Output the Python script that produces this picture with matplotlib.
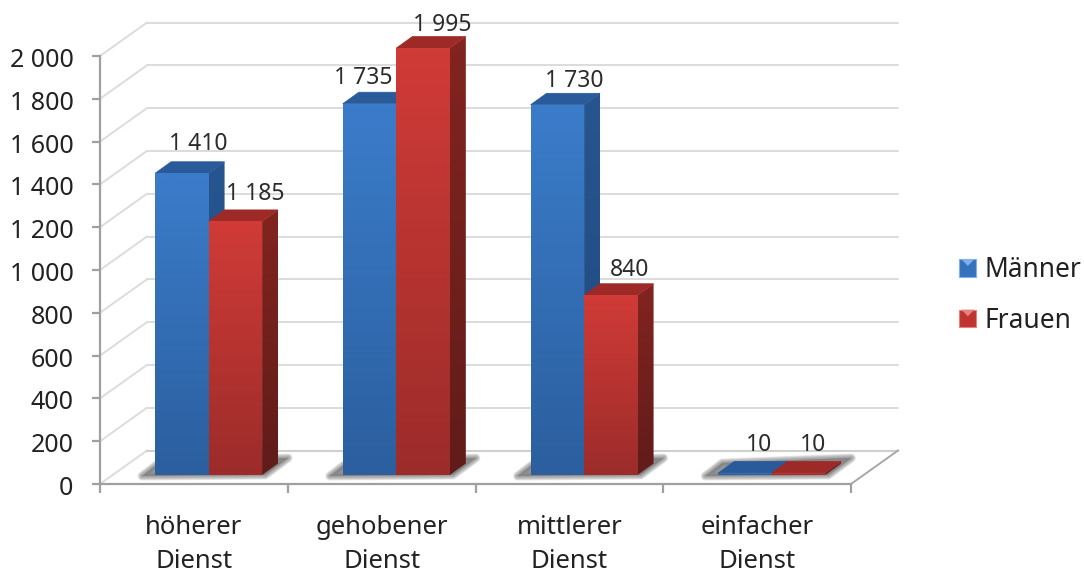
import matplotlib
matplotlib.use("Agg")
import matplotlib.pyplot as plt
import numpy as np
from matplotlib.colors import LinearSegmentedColormap
from matplotlib.legend_handler import HandlerBase
from matplotlib.patches import Patch, Polygon, Rectangle
from matplotlib.transforms import ScaledTranslation

categories = ["höherer\nDienst", "gehobener\nDienst", "mittlerer\nDienst", "einfacher\nDienst"]
men = [1410, 1735, 1730, 10]
women = [1185, 1995, 840, 10]
series_names = ["Männer", "Frauen"]
y_ticks = list(range(0, 2001, 200))

# Label displacement from the top centre of each bar, in pixels
men_label_shift = [(16, 29), (-6, 26), (17, 24), (14, 28)]
women_label_shift = [(20, 27), (19, 23), (19, 25), (14, 28)]

FONT = "Noto Sans"
W, H = 1084, 573
L, R, T, B = 100, 851, 56, 484

fig = plt.figure(figsize=(W / 100, H / 100), dpi=100)
ax = fig.add_axes([L / W, 1 - B / H, (R - L) / W, (B - T) / H])
ax.set_xlim(0, 4)
ax.set_ylim(0, 2000)

# Screen pixels expressed in data units, for the oblique 3D offsets
px_x = 4 / (R - L)
px_y = 2000 / (B - T)

WALL_DX, WALL_DY = 47 * px_x, 33.5 * px_y
DEPTH_DX, DEPTH_DY = 16 * px_x, 11.5 * px_y
BASE_Y = 9 * px_y
BAR_W = 53.5 * px_x
GROUP_SHIFT = 14.7 * px_x


def gradient_poly(verts, top, bottom, zorder):
    """Fill a polygon with a vertical colour gradient."""
    cmap = LinearSegmentedColormap.from_list("face", [bottom, top])
    xs, ys = zip(*verts)
    grad = np.linspace(1, 0, 64).reshape(-1, 1)
    im = ax.imshow(grad, extent=(min(xs), max(xs), min(ys), max(ys)), aspect="auto",
                   cmap=cmap, vmin=0, vmax=1, zorder=zorder, interpolation="bilinear")
    clip = Polygon(verts, closed=True, fc="none", ec="none", transform=ax.transData, clip_on=False)
    ax.add_patch(clip)
    im.set_clip_path(clip)
    im.set_clip_box(fig.bbox)


def bar3d(x0, value, face, side, cap, zorder):
    x1 = x0 + BAR_W
    y0, y1 = BASE_Y, BASE_Y + value
    dx, dy = DEPTH_DX, DEPTH_DY
    gradient_poly([(x1, y0), (x1 + dx, y0 + dy), (x1 + dx, y1 + dy), (x1, y1)], side[0], side[1], zorder)
    ax.add_patch(Polygon([(x0, y1), (x1, y1), (x1 + dx, y1 + dy), (x0 + dx, y1 + dy)],
                         fc=cap, ec=cap, lw=0.5, zorder=zorder + 0.1, clip_on=False))
    gradient_poly([(x0, y0), (x1, y0), (x1, y1), (x0, y1)], face[0], face[1], zorder + 0.2)


def floor_shadow(x0, x1):
    """Soft shadow cast on the floor below a bar pair."""
    verts = [(x0 - 13 * px_x, 8 * px_y), (x0 + 4 * px_x, 21 * px_y),
             (x1 + 26 * px_x, 26 * px_y), (x1 + 3 * px_x, 9 * px_y)]
    for lw in (6.5, 5.5, 4.5, 3.5, 2.5, 1.5, 0.5):
        ax.add_patch(Polygon(verts, fc="#7c7c7c", ec="#7c7c7c", lw=lw, alpha=0.17,
                             joinstyle="round", zorder=1.5, clip_on=False))


class SwatchHandler(HandlerBase):
    """Square legend key with a lighter notch along its top edge."""

    def create_artists(self, legend, orig, xd, yd, width, height, fontsize, trans):
        base = Rectangle((-xd, -yd), width, height, fc=orig.get_facecolor(),
                         ec=orig.get_edgecolor(), lw=0.8, transform=trans)
        notch = Polygon([(-xd + 0.12 * width, -yd + height), (-xd + 0.88 * width, -yd + height),
                         (-xd + 0.5 * width, -yd + 0.62 * height)],
                        fc=orig.get_edgecolor(), ec="none", transform=trans)
        return [base, notch]


# Walls and floor
grid_kw = dict(color="#dcdcdc", lw=1.4, clip_on=False, zorder=1, solid_capstyle="round")
for v in y_ticks:
    ax.plot([0, WALL_DX], [v, v + WALL_DY], **grid_kw)
    ax.plot([WALL_DX, 4 + WALL_DX], [v + WALL_DY, v + WALL_DY], **grid_kw)
ax.plot([4, 4 + WALL_DX], [0, WALL_DY], color="#a8a8a8", lw=1.4, clip_on=False, zorder=1.2)
ax.plot([WALL_DX, 4 + WALL_DX], [WALL_DY, WALL_DY], color="#cfcfcf", lw=1.5, clip_on=False, zorder=1.1)

# Bars
BLUE = dict(face=("#3b7cca", "#2b5f9f"), side=("#27558f", "#1f4a80"), cap="#295a9a")
RED = dict(face=("#d03b37", "#9c2c2a"), side=("#82241f", "#611c1a"), cap="#9e2a27")
for i, (m, w) in enumerate(zip(men, women)):
    start = i + 0.5 + GROUP_SHIFT - BAR_W
    floor_shadow(start, start + 2 * BAR_W)
    bar3d(start, m, zorder=2, **BLUE)
    bar3d(start + BAR_W, w, zorder=3, **RED)

    for x0, val, (sx, sy) in ((start, m, men_label_shift[i]),
                              (start + BAR_W, w, women_label_shift[i])):
        ax.text(x0 + BAR_W / 2 + sx * px_x, BASE_Y + val + sy * px_y,
                f"{val:,}".replace(",", " "), ha="center", va="center",
                fontsize=16.5, family=FONT, color="#2b2b2b", zorder=6, clip_on=False)

# Axes, ticks and category names
for name in ("top", "right"):
    ax.spines[name].set_visible(False)
for name in ("left", "bottom"):
    ax.spines[name].set_color("#a0a0a0")
    ax.spines[name].set_linewidth(1.6)
    ax.spines[name].set_zorder(5)
ax.set_yticks(y_ticks)
ax.set_yticklabels([f"{v:,}".replace(",", " ") for v in y_ticks], family=FONT, fontsize=18, color="#222222")
ax.tick_params(axis="y", length=6, width=1.6, color="#a0a0a0", pad=13)
nudge = ScaledTranslation(0, -1.5 / 100, fig.dpi_scale_trans)
for lab in ax.get_yticklabels():
    lab.set_transform(lab.get_transform() + nudge)
ax.set_xticks(range(5))
ax.set_xticklabels([""] * 5)
ax.tick_params(axis="x", length=6.5, width=1.6, color="#a0a0a0")
ax.set_xticks(np.arange(len(categories)) + 0.5, minor=True)
ax.set_xticklabels(categories, minor=True, family=FONT, fontsize=18.5, color="#222222", linespacing=1.5)
ax.tick_params(axis="x", which="minor", length=0, pad=22)

# Legend
handles = [Patch(fc="#3572bd", ec="#7fb0e6"), Patch(fc="#bf3431", ec="#e5827e")]
leg = fig.legend(handles, series_names, loc="upper left", bbox_to_anchor=(954 / W, 1 - 251 / H),
                 frameon=False, prop={"family": FONT, "size": 19}, handlelength=0.65,
                 handleheight=0.65, handletextpad=0.3, labelspacing=0.85, borderpad=0.2, borderaxespad=0,
                 handler_map={Patch: SwatchHandler()})
for t in leg.get_texts():
    t.set_color("#222222")

ax.set_xlim(0, 4)
ax.set_ylim(0, 2000)
fig.savefig("out.png", dpi=100)
